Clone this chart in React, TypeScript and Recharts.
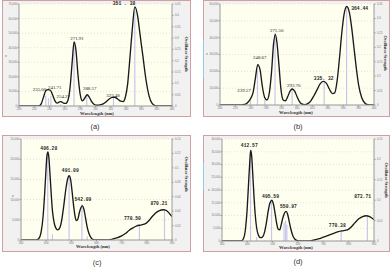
import React from 'react';
import { ComposedChart, Line, XAxis, YAxis, CartesianGrid, ReferenceLine, ReferenceDot } from 'recharts';

// ---------- Panel (a) ----------
const aWavelength = [200, 220, 226, 229, 232, 235, 238, 241, 244, 247, 250, 253, 255, 258, 261, 264, 267, 269.5, 272, 274.5, 277, 280, 283, 286, 289, 292, 295, 298, 302, 306, 310, 314, 318, 322, 325, 329, 333, 336, 339, 342, 345, 348, 351.4, 355, 358, 362, 366, 370, 374, 378, 382, 400];
const aEpsilon = [0, 0, 0, 1500, 6000, 10500, 11200, 10800, 7500, 3500, 2000, 2800, 3000, 2000, 1800, 4000, 14000, 30000, 44000, 38000, 22000, 8000, 3500, 5500, 7700, 6000, 3000, 1200, 500, 800, 1500, 3000, 4800, 5900, 6000, 4800, 3300, 3000, 6000, 15000, 33000, 52000, 68000, 62000, 50000, 34000, 18000, 7000, 1800, 300, 0, 0];
const aStickWavelength = [235.0, 238.5, 241.71, 254.27, 271.91, 288.57, 323.48, 351.38];
const aStickStrength = [0.045, 0.035, 0.045, 0.008, 0.28, 0.045, 0.035, 0.42];
const aPeakLabels = ['235.00', '241.71', '254.27', '271.91', '288.57', '323.48', '351 . 38'];
const aPeakLabelWavelength = [226.8, 246.7, 257.9, 275.8, 292.4, 322.9, 337.3];
const aPeakLabelEpsilon = [10500, 11700, 5300, 45300, 11000, 6400, 69300];
const aXTicks = [200, 220, 240, 260, 280, 300, 320, 340, 360, 380, 400];
const aLeftTicks = [0, 10000, 20000, 30000, 40000, 50000, 60000, 70000];
const aRightTicks = [0, 0.05, 0.1, 0.15, 0.2, 0.25, 0.3, 0.35, 0.4, 0.45];

// ---------- Panel (b) ----------
const bWavelength = [200, 228, 232, 236, 240, 243, 246, 249, 252, 255, 258, 261, 264, 267, 269.5, 271.8, 274, 276.5, 279, 282, 285, 288, 291, 294, 297, 300, 303, 306, 310, 314, 318, 322, 326, 330, 334, 338, 342, 346, 349, 352, 355, 358, 361, 364.5, 368, 371, 374, 377, 380, 384, 388, 392, 396, 400];
const bEpsilon = [0, 0, 300, 1500, 4000, 7500, 16000, 24000, 21000, 11000, 4500, 3000, 7000, 20000, 36000, 42000, 37000, 24000, 10000, 3000, 2500, 5000, 8300, 9500, 8200, 5000, 2200, 700, 200, 800, 2500, 5500, 9000, 12500, 14000, 13000, 9500, 6800, 7200, 14000, 27000, 42000, 53500, 58500, 55000, 46000, 34000, 22000, 12000, 4500, 1200, 200, 0, 0];
const bStickWavelength = [239.57, 248.67, 258.2, 271.5, 293.7, 335.32, 364.44];
const bStickStrength = [0.022, 0.12, 0.02, 0.25, 0.06, 0.085, 0.335];
const bPeakLabels = ['239.57', '248.67', '271.50', '293.70', '335. 32', '364.44'];
const bPeakLabelWavelength = [231.2, 251.6, 273.6, 295.8, 334.7, 381.4];
const bPeakLabelEpsilon = [7540, 27100, 43200, 10500, 14850, 56400];
const bXTicks = [200, 220, 240, 260, 280, 300, 320, 340, 360, 380, 400];
const bLeftTicks = [0, 10000, 20000, 30000, 40000, 50000, 60000];
const bRightTicks = [0, 0.05, 0.1, 0.15, 0.2, 0.25, 0.3, 0.35];

// ---------- Panel (c) ----------
const cWavelength = [300, 360, 370, 380, 388, 394, 399, 403, 407, 411, 415, 420, 425, 431, 438, 446, 454, 462, 470, 478, 485, 491, 497, 503, 509, 515, 520, 526, 532, 538, 544, 550, 556, 562, 570, 578, 588, 600, 640, 660, 680, 700, 715, 730, 745, 760, 775, 790, 805, 820, 835, 850, 865, 875, 885, 893, 900];
const cEpsilon = [0, 0, 300, 2000, 6000, 11500, 17000, 20800, 21800, 20300, 16500, 11500, 7200, 4500, 3000, 2500, 3000, 5000, 8500, 12500, 15000, 15900, 15000, 12000, 8500, 5800, 4800, 5200, 6800, 8000, 8450, 7600, 5600, 3500, 1600, 600, 100, 0, 0, 150, 500, 1000, 1600, 2400, 3000, 3500, 3700, 3900, 4600, 5700, 6700, 7300, 7500, 7400, 6900, 6300, 5800];
const cStickWavelength = [406.28, 425, 491.09, 542.09, 563, 770.5, 870.21];
const cStickStrength = [0.12, 0.008, 0.088, 0.05, 0.005, 0.02, 0.042];
const cPeakLabels = ['406.28', '491.09', '542.09', '770.50', '870.21'];
const cPeakLabelWavelength = [410.5, 495.9, 546.3, 743, 848];
const cPeakLabelEpsilon = [22350, 16750, 9730, 4950, 8660];
const cXTicks = [300, 400, 500, 600, 700, 800, 900];
const cLeftTicks = [0, 5000, 10000, 15000, 20000, 25000];
const cRightTicks = [0, 0.02, 0.04, 0.06, 0.08, 0.1, 0.12, 0.14];

// ---------- Panel (d) ----------
const dWavelength = [300, 375, 385, 393, 399, 404, 409, 413, 417, 421, 426, 431, 437, 444, 452, 460, 468, 475, 482, 489, 496, 503, 510, 516, 522, 528, 534, 540, 547, 553, 559, 565, 572, 580, 588, 598, 608, 640, 660, 680, 700, 720, 740, 760, 780, 795, 810, 825, 840, 855, 870, 880, 890, 900];
const dEpsilon = [0, 0, 1000, 5000, 12000, 21000, 30000, 35500, 33500, 27000, 18000, 10500, 5000, 2200, 1300, 1600, 3500, 7000, 11500, 14800, 16000, 14500, 10500, 6800, 4600, 4400, 6500, 9000, 11000, 11600, 10500, 7800, 4600, 2000, 700, 100, 0, 0, 300, 800, 1500, 2200, 3000, 3700, 4100, 4400, 5500, 7200, 8700, 9600, 9900, 9700, 9100, 8300];
const dStickWavelength = [412.57, 437, 495.59, 545, 550.97, 556, 770.38, 873.71];
const dStickStrength = [0.22, 0.01, 0.1, 0.045, 0.05, 0.04, 0.027, 0.06];
const dPeakLabels = ['412.57', '495.59', '550.97', '770.38', '873.71'];
const dPeakLabelWavelength = [407.8, 491.5, 562.5, 755, 855];
const dPeakLabelEpsilon = [36700, 17000, 12800, 5370, 16850];
const dXTicks = [300, 400, 500, 600, 700, 800, 900];
const dLeftTicks = [0, 5000, 10000, 15000, 20000, 25000, 30000, 35000, 40000];
const dRightTicks = [0, 0.05, 0.1, 0.15, 0.2, 0.25];

type Rect = { l: number; t: number; r: number; b: number };
type Pt = { x: number; y: number };
type Spec = {
  name: string;
  wl: number[]; ep: number[];
  sx: number[]; sy: number[];
  labels: string[]; lx: number[]; ly: number[];
  xTicks: number[]; leftTicks: number[]; rightTicks: number[];
  box: Rect; plot: Rect;
  monoFrom: number;
  title: Pt; osc: Pt; epsPos: Pt; tag: Pt;
  cyan?: { x: number; y1: number; y2: number };
};

const SANS = '"Liberation Sans", Arial, sans-serif';
const SERIF = '"Liberation Serif", "Times New Roman", serif';
const MONO = '"Liberation Mono", "DejaVu Sans Mono", monospace';

const fmtLeft = (v: number) => v.toLocaleString('en-US');
const fmtRight = (v: number) => String(Number(v.toFixed(2)));

function Panel({ s }: { s: Spec }) {
  const W = s.box.r - s.box.l;
  const H = s.box.b - s.box.t;
  const data = s.wl.map((x, i) => ({ x, y: s.ep[i] }));
  const xMin = s.xTicks[0];
  const xMax = s.xTicks[s.xTicks.length - 1];
  const yMax = s.leftTicks[s.leftTicks.length - 1];
  const rMax = s.rightTicks[s.rightTicks.length - 1];
  const tickStyle = { fontSize: 2.8, fill: '#777', fontFamily: SANS };
  return (
    <>
      <div style={{ position: 'absolute', left: s.box.l, top: s.box.t, width: W, height: H, boxSizing: 'border-box', background: '#f1f1f1', border: '1px solid #cfa0a0' }} />
      {s.cyan && (
        <div style={{ position: 'absolute', left: s.cyan.x, top: s.cyan.y1, width: 1, height: s.cyan.y2 - s.cyan.y1, background: '#8fd0e4' }} />
      )}
      <div style={{ position: 'absolute', left: s.box.l, top: s.box.t }}>
        <ComposedChart width={W} height={H} data={data} margin={{ top: s.plot.t - s.box.t, right: 0, bottom: 0, left: 0 }}>
          <CartesianGrid yAxisId="left" vertical={false} fill="#fffff0" stroke="#e4e4d6" strokeDasharray="1 2" />
          <XAxis dataKey="x" type="number" domain={[xMin, xMax]} ticks={s.xTicks} interval={0}
            height={s.box.b - s.plot.b} tick={tickStyle} tickSize={1.5} tickMargin={0.5}
            axisLine={{ stroke: '#9a9a9a' }} tickLine={{ stroke: '#9a9a9a' }} allowDataOverflow />
          <YAxis yAxisId="left" type="number" domain={[0, yMax]} ticks={s.leftTicks} interval={0}
            width={s.plot.l - s.box.l} tick={tickStyle} tickSize={1.5} tickMargin={0.5} tickFormatter={fmtLeft}
            axisLine={{ stroke: '#9a9a9a' }} tickLine={{ stroke: '#9a9a9a' }} allowDataOverflow />
          <YAxis yAxisId="right" orientation="right" type="number" domain={[0, rMax]} ticks={s.rightTicks} interval={0}
            width={s.box.r - s.plot.r} tick={tickStyle} tickSize={1.5} tickMargin={1.5} tickFormatter={fmtRight}
            axisLine={{ stroke: '#9a9a9a' }} tickLine={{ stroke: '#9a9a9a' }} allowDataOverflow />
          {s.sx.map((w, i) => (
            <ReferenceLine key={'st' + i} yAxisId="right" segment={[{ x: w, y: 0 }, { x: w, y: s.sy[i] }]}
              stroke="#c6c6f0" strokeWidth={1.2} />
          ))}
          <Line yAxisId="left" type="monotone" dataKey="y" stroke="#1a1a1a" strokeWidth={1.35} dot={false}
            isAnimationActive={false} />
          {s.labels.map((t, i) => {
            const mono = i >= s.monoFrom;
            return (
              <ReferenceDot key={'lb' + i} yAxisId="left" x={s.lx[i]} y={s.ly[i]} r={0}
                shape={(p: any) => (
                  <text x={p.cx} y={p.cy} textAnchor="middle" fill="#1e1e1e"
                    style={{ fontSize: mono ? 4.7 : 4.9, fontFamily: mono ? MONO : SERIF, fontWeight: mono ? 700 : 400 }}>
                    {t}
                  </text>
                )} />
            );
          })}
        </ComposedChart>
      </div>
      <div style={{ position: 'absolute', left: s.title.x - 30, top: s.title.y - 3, width: 60, textAlign: 'center', fontFamily: SERIF, fontWeight: 700, fontSize: 4.6, lineHeight: '6px', color: '#333' }}>
        Wavelength (nm)
      </div>
      <div style={{ position: 'absolute', left: s.osc.x - 25, top: s.osc.y - 3, width: 50, textAlign: 'center', fontFamily: SERIF, fontWeight: 700, fontSize: 4.3, lineHeight: '6px', color: '#333', transform: 'rotate(90deg)' }}>
        Oscillator Strength
      </div>
      <div style={{ position: 'absolute', left: s.epsPos.x - 3, top: s.epsPos.y - 3, width: 6, textAlign: 'center', fontFamily: SERIF, fontSize: 4, lineHeight: '6px', color: '#444' }}>
        ε
      </div>
      <div style={{ position: 'absolute', left: s.tag.x - 10, top: s.tag.y - 5, width: 20, textAlign: 'center', fontFamily: SANS, fontSize: 7.5, lineHeight: '10px', color: '#333' }}>
        ({s.name})
      </div>
    </>
  );
}

const specs: Spec[] = [
  {
    name: 'a', wl: aWavelength, ep: aEpsilon, sx: aStickWavelength, sy: aStickStrength,
    labels: aPeakLabels, lx: aPeakLabelWavelength, ly: aPeakLabelEpsilon,
    xTicks: aXTicks, leftTicks: aLeftTicks, rightTicks: aRightTicks,
    box: { l: 2, t: 0, r: 191, b: 117 }, plot: { l: 19, t: 4, r: 172, b: 106 }, monoFrom: 6,
    title: { x: 97, y: 114 }, osc: { x: 186, y: 54 }, epsPos: { x: 6, y: 56 }, tag: { x: 95, y: 127 },
  },
  {
    name: 'b', wl: bWavelength, ep: bEpsilon, sx: bStickWavelength, sy: bStickStrength,
    labels: bPeakLabels, lx: bPeakLabelWavelength, ly: bPeakLabelEpsilon,
    xTicks: bXTicks, leftTicks: bLeftTicks, rightTicks: bRightTicks,
    box: { l: 203, t: 0, r: 390, b: 117 }, plot: { l: 220, t: 4, r: 374, b: 105 }, monoFrom: 4,
    title: { x: 296, y: 113 }, osc: { x: 385, y: 53 }, epsPos: { x: 207, y: 54 }, tag: { x: 298, y: 127 },
    cyan: { x: 203, y1: 40, y2: 78 },
  },
  {
    name: 'c', wl: cWavelength, ep: cEpsilon, sx: cStickWavelength, sy: cStickStrength,
    labels: cPeakLabels, lx: cPeakLabelWavelength, ly: cPeakLabelEpsilon,
    xTicks: cXTicks, leftTicks: cLeftTicks, rightTicks: cRightTicks,
    box: { l: 2, t: 135, r: 191, b: 252 }, plot: { l: 21, t: 139, r: 172, b: 240 }, monoFrom: 0,
    title: { x: 93, y: 247 }, osc: { x: 186, y: 174 }, epsPos: { x: 13, y: 196 }, tag: { x: 97, y: 263 },
  },
  {
    name: 'd', wl: dWavelength, ep: dEpsilon, sx: dStickWavelength, sy: dStickStrength,
    labels: dPeakLabels, lx: dPeakLabelWavelength, ly: dPeakLabelEpsilon,
    xTicks: dXTicks, leftTicks: dLeftTicks, rightTicks: dRightTicks,
    box: { l: 203, t: 135, r: 390, b: 252 }, plot: { l: 222, t: 139, r: 374, b: 241 }, monoFrom: 0,
    title: { x: 296, y: 248 }, osc: { x: 386, y: 180 }, epsPos: { x: 209, y: 190 }, tag: { x: 298, y: 262 },
    cyan: { x: 203, y1: 163, y2: 190 },
  },
];

export default function App() {
  return (
    <div style={{ position: 'absolute', left: 0, top: 0, width: 392, height: 270, background: '#ffffff', overflow: 'hidden' }}>
      {specs.map((s) => (
        <Panel key={s.name} s={s} />
      ))}
    </div>
  );
}
